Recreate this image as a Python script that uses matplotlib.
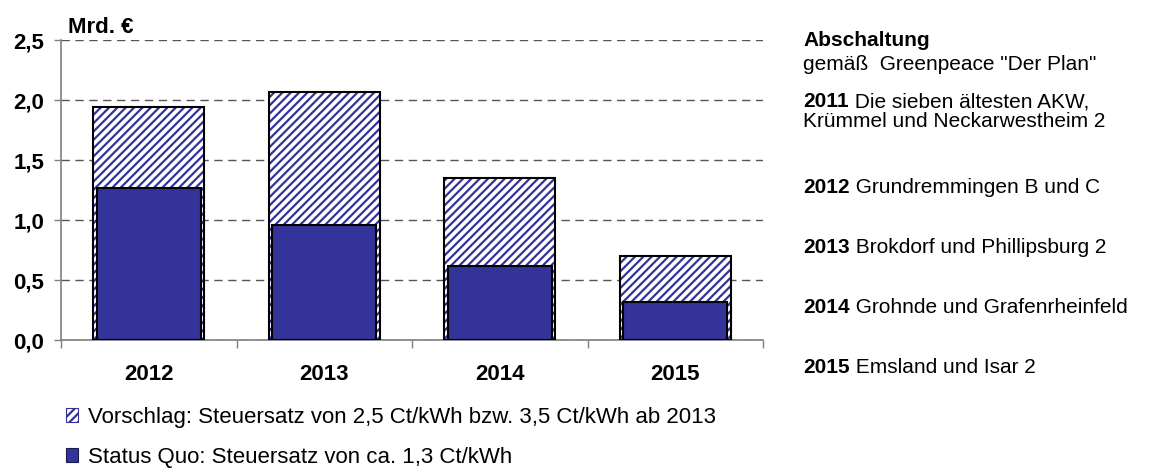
import matplotlib
matplotlib.use('Agg')
import matplotlib.pyplot as plt
import matplotlib.patches as mpatches
from matplotlib.ticker import FuncFormatter
import numpy as np

# data (Mrd. Euro)
years = ['2012', '2013', '2014', '2015']
vorschlag = [1.94, 2.07, 1.35, 0.70]
status_quo = [1.27, 0.96, 0.62, 0.32]

labels = ['Vorschlag: Steuersatz von 2,5 Ct/kWh bzw. 3,5 Ct/kWh ab 2013',
          'Status Quo: Steuersatz von ca. 1,3 Ct/kWh']

# right hand text block: (bold part, normal part)
notes_title = 'Abschaltung'
notes_sub = 'gemäß  Greenpeace "Der Plan"'
notes = [('2011', ' Die sieben ältesten AKW,'),
         ('', 'Krümmel und Neckarwestheim 2'),
         ('2012', ' Grundremmingen B und C'),
         ('2013', ' Brokdorf und Phillipsburg 2'),
         ('2014', ' Grohnde und Grafenrheinfeld'),
         ('2015', ' Emsland und Isar 2')]

plt.rcParams['font.family'] = ['Liberation Sans', 'DejaVu Sans']
plt.rcParams['hatch.linewidth'] = 1.6

BLUE = '#333399'
GREY = '#7f7f7f'
W, H = 1151, 475
FS = 16
FS_NOTE = 15

fig = plt.figure(figsize=(W / 100, H / 100), dpi=100)
ax = fig.add_axes([61 / W, 1 - 340 / H, (763 - 61) / W, 300 / H])

x = np.arange(len(years)) + 0.5
# hatched bar, its outline, then the solid bar in front
ax.bar(x, vorschlag, width=0.63, color='white', edgecolor=BLUE, linewidth=0,
       hatch='////', zorder=2)
ax.bar(x, vorschlag, width=0.63, fill=False, edgecolor='black', linewidth=1.5, zorder=3)
ax.bar(x, status_quo, width=0.59, color=BLUE, edgecolor='black', linewidth=1.5, zorder=4)

ax.set_xlim(0, len(years))
ax.set_ylim(0, 2.5)
ax.set_yticks(np.arange(0, 2.51, 0.5))
ax.yaxis.set_major_formatter(FuncFormatter(lambda v, _: f'{v:.1f}'.replace('.', ',')))
plt.setp(ax.get_yticklabels(), fontweight='bold', fontsize=FS)
ax.tick_params(axis='y', length=5, width=1, color=GREY, pad=7)

ax.set_xticks(range(len(years) + 1))
ax.set_xticklabels([])
ax.set_xticks(x, minor=True)
ax.set_xticklabels(years, minor=True, fontweight='bold', fontsize=FS)
ax.tick_params(axis='x', which='major', length=6, width=1, color=GREY)
ax.tick_params(axis='x', which='minor', length=0, pad=17)

ax.yaxis.grid(True, color='#555555', linestyle=(0, (6, 4)), linewidth=1)
ax.set_axisbelow(True)
for s in ['top', 'right']:
    ax.spines[s].set_visible(False)
for s in ['left', 'bottom']:
    ax.spines[s].set_color(GREY)
    ax.spines[s].set_linewidth(1.2)

fig.text(68 / W, 1 - 33 / H, 'Mrd. €', fontsize=FS, fontweight='bold', va='baseline')

# legend below the plot
h1 = mpatches.Patch(facecolor='white', edgecolor=BLUE, hatch='////', linewidth=0.8)
h2 = mpatches.Patch(facecolor=BLUE, edgecolor='#1a1a4d', linewidth=0.8)
fig.legend([h1, h2], labels, loc='upper left', bbox_to_anchor=(66 / W, 1 - 407 / H),
           frameon=False, fontsize=FS, handlelength=0.55, handleheight=0.55,
           handletextpad=0.45, labelspacing=0.85, borderpad=0, borderaxespad=0)

# text block on the right
tx = 803 / W
fig.text(tx, 1 - 46 / H, notes_title, fontsize=FS_NOTE, fontweight='bold', va='baseline')
fig.text(tx, 1 - 70 / H, notes_sub, fontsize=FS_NOTE, va='baseline')
note_y = [107, 131, 193, 253, 313, 373]
for (b, rest), y in zip(notes, note_y):
    t = fig.text(tx, 1 - y / H, b, fontsize=FS_NOTE, fontweight='bold', va='baseline')
    ax.annotate(rest, xy=(1, 0), xycoords=t, va='bottom', ha='left',
                fontsize=FS_NOTE, annotation_clip=False)

fig.savefig('out.png', dpi=100)
